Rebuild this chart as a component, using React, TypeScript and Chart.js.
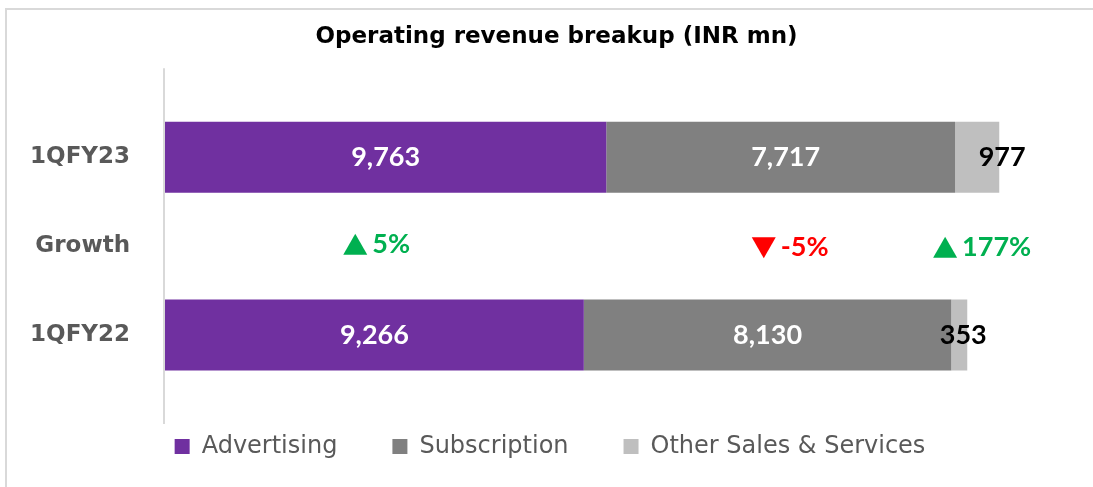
import React, { useEffect, useRef } from "react";
import { Chart, registerables } from "chart.js";

Chart.register(...registerables);

// ---------- data ----------
const chartTitle = "Operating revenue breakup (INR mn)";
const categories = ["1QFY23", "Growth", "1QFY22"];
const seriesNames = ["Advertising", "Subscription", "Other Sales & Services"];
const advertising = [9763, null, 9266];
const subscription = [7717, null, 8130];
const otherSales = [977, null, 353];
const growthPct = [5, -5, 177]; // Advertising, Subscription, Other (1QFY23 vs 1QFY22)
const growthRowIndex = 1;
const growthRefRow = 0;
const xMax = 20000;

// ---------- style ----------
const barColors = ["#7030A0", "#808080", "#BFBFBF"];
const labelColors = ["#FFFFFF", "#FFFFFF", "#000000"];
const labelNudgeX = [
  [0, 0, 0],
  [5, 0, 0],
  [25, 0, 4],
];
const growthNudgeX = [-9, 9.5, 5];
const growthNudgeY = [-2, 1.5, 1];
const upColor = "#00B050";
const downColor = "#FF0000";
const axisColor = "#D9D9D9";
const textGrey = "#595959";
const titleFont = "bold 23px 'DejaVu Sans'";
const titleOffsetX = 10;
const titleY = 36.8;

const titlePlugin = {
  id: "customTitle",
  afterDraw(chart: any) {
    const ctx = chart.ctx;
    ctx.save();
    ctx.font = titleFont;
    ctx.fillStyle = "#000000";
    ctx.textAlign = "center";
    ctx.textBaseline = "middle";
    ctx.fillText(chartTitle, chart.width / 2 + titleOffsetX, titleY);
    ctx.restore();
  },
};

const axisLinePlugin = {
  id: "axisLine",
  beforeDatasetsDraw(chart: any) {
    const { ctx, chartArea } = chart;
    const band = (chartArea.bottom - chartArea.top) / categories.length;
    ctx.save();
    ctx.strokeStyle = axisColor;
    ctx.lineWidth = 2;
    ctx.beginPath();
    ctx.moveTo(chartArea.left - 1, chartArea.top - band / 2);
    ctx.lineTo(chartArea.left - 1, chartArea.bottom + band / 2);
    ctx.stroke();
    ctx.restore();
  },
};

const labelsPlugin = {
  id: "barLabels",
  afterDatasetsDraw(chart: any) {
    const ctx = chart.ctx;
    ctx.save();
    ctx.font = "bold 27px Lato";
    ctx.textBaseline = "middle";
    ctx.textAlign = "center";
    chart.data.datasets.forEach((ds: any, di: number) => {
      const meta = chart.getDatasetMeta(di);
      meta.data.forEach((el: any, i: number) => {
        const v = ds.data[i];
        if (v == null) return;
        const { x, y, base } = el.getProps(["x", "y", "base"], true);
        const cx = (x + base) / 2 + (labelNudgeX[di][i] || 0);
        ctx.fillStyle = labelColors[di];
        ctx.fillText(v.toLocaleString("en-US"), cx, y);
      });
    });

    // growth row
    const gy = chart.scales.y.getPixelForValue(growthRowIndex);
    growthPct.forEach((g, di) => {
      const el = chart.getDatasetMeta(di).data[growthRefRow];
      const { x, base } = el.getProps(["x", "base"], true);
      const center = (x + base) / 2 + growthNudgeX[di];
      const text = `${g}%`;
      const tw = ctx.measureText(text).width;
      const triW = 24;
      const triH = 21;
      const gap = 5;
      const total = triW + gap + tw;
      const left = center - total / 2;
      const yy = gy + growthNudgeY[di];
      ctx.fillStyle = g >= 0 ? upColor : downColor;
      ctx.beginPath();
      if (g >= 0) {
        ctx.moveTo(left, yy + triH / 2);
        ctx.lineTo(left + triW / 2, yy - triH / 2);
        ctx.lineTo(left + triW, yy + triH / 2);
      } else {
        ctx.moveTo(left, yy - triH / 2);
        ctx.lineTo(left + triW, yy - triH / 2);
        ctx.lineTo(left + triW / 2, yy + triH / 2);
      }
      ctx.closePath();
      ctx.fill();
      ctx.textAlign = "left";
      ctx.fillText(text, left + triW + gap, yy);
    });
    ctx.restore();
  },
};

export default function App() {
  const canvasRef = useRef<HTMLCanvasElement | null>(null);

  useEffect(() => {
    if (!canvasRef.current) return;
    const seriesData = [advertising, subscription, otherSales];
    const chart = new Chart(canvasRef.current, {
      type: "bar",
      data: {
        labels: categories,
        datasets: seriesNames.map((name, i) => ({
          label: name,
          data: seriesData[i] as any,
          backgroundColor: barColors[i],
          borderWidth: 0,
          categoryPercentage: 1,
          barPercentage: 0.8,
        })),
      },
      options: {
        indexAxis: "y",
        animation: false,
        responsive: false,
        devicePixelRatio: 1,
        layout: { padding: { left: 31, right: 24, top: 112.75, bottom: 18.5 } },
        scales: {
          x: {
            type: "linear",
            stacked: true,
            min: 0,
            max: xMax,
            display: false,
          },
          y: {
            type: "category",
            stacked: true,
            grid: { display: false, drawTicks: false },
            border: { display: false },
            ticks: {
              color: textGrey,
              padding: 35,
              font: { family: "DejaVu Sans", weight: "bold", size: 23 },
            },
            afterFit: (s: any) => {
              s.width = 134;
            },
          },
        },
        plugins: {
          title: { display: false },
          legend: {
            display: true,
            position: "bottom",
            labels: {
              color: textGrey,
              font: { family: "DejaVu Sans", size: 24 },
              boxWidth: 15,
              boxHeight: 15,
              padding: 55,
            },
          },
          tooltip: { enabled: false },
        },
      },
      plugins: [axisLinePlugin, labelsPlugin, titlePlugin],
    });
    return () => chart.destroy();
  }, []);

  return (
    <div
      style={{
        position: "absolute",
        left: 0,
        top: 0,
        width: 1093,
        height: 487,
        overflow: "hidden",
        background: "#FFFFFF",
      }}
    >
      <div
        style={{
          position: "absolute",
          left: 5,
          top: 8,
          width: 1300,
          height: 700,
          boxSizing: "border-box",
          border: `2px solid ${axisColor}`,
        }}
      />
      <canvas
        ref={canvasRef}
        width={1093}
        height={487}
        style={{ position: "absolute", left: 0, top: 0, display: "block" }}
      />
    </div>
  );
}
